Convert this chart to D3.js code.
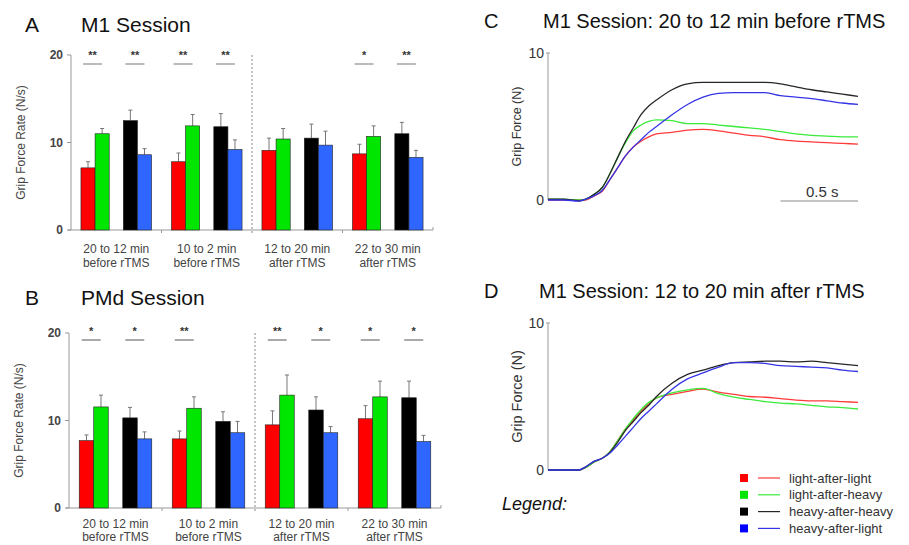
<!DOCTYPE html>
<html>
<head>
<meta charset="utf-8">
<script src="https://cdn.jsdelivr.net/npm/d3@7"></script>
<style>
  body { margin: 0; background: #fff; }
  svg { font-family: "Liberation Sans", Arial, sans-serif; }
</style>
</head>
<body>
<script>
// ---- data ----
var periodLine1 = ["20 to 12 min", "10 to 2 min", "12 to 20 min", "22 to 30 min"];
var periodLine2 = ["before rTMS", "before rTMS", "after rTMS", "after rTMS"];
var conditions = ["light-after-light", "light-after-heavy", "heavy-after-heavy", "heavy-after-light"];
var barColors = ["#ff0000", "#00e600", "#000000", "#2f66ff"];
var lineColors = ["#ff3a3a", "#3bea3b", "#262626", "#3434e6"];

// mean grip force rate per period, in condition order
var m1Means = [[7.1, 11.0, 12.5, 8.6], [7.8, 11.9, 11.8, 9.2], [9.1, 10.4, 10.5, 9.7], [8.7, 10.7, 11.0, 8.3]];
var m1Err   = [[0.7, 0.6, 1.2, 0.7], [1.0, 1.3, 1.5, 1.1], [1.4, 1.2, 1.6, 1.6], [1.1, 1.2, 1.3, 0.8]];
var m1Sig   = ["**", "**", "**", "**", "", "", "*", "**"];

var pmdMeans = [[7.7, 11.55, 10.3, 7.9], [7.9, 11.4, 9.9, 8.6], [9.5, 12.9, 11.2, 8.6], [10.2, 12.7, 12.6, 7.6]];
var pmdErr   = [[0.65, 1.35, 1.2, 0.8], [0.9, 1.3, 1.1, 1.3], [1.6, 2.3, 1.5, 0.7], [1.5, 1.8, 1.9, 0.7]];
var pmdSig   = ["*", "*", "**", "", "**", "*", "*", "*"];

var yTicks = [0, 10, 20];

// force traces (s, N)
var time = [0, 0.1, 0.2, 0.24, 0.3, 0.35, 0.4, 0.45, 0.5, 0.55, 0.6, 0.65, 0.7, 0.8, 0.9, 1.0, 1.1, 1.2, 1.3, 1.4, 1.5, 1.6, 1.7, 1.8, 1.9, 2.0];
var cLightLight = [0, 0, 0, 0, 0.3, 0.6, 1.4, 2.2, 3.0, 3.6, 4.0, 4.3, 4.5, 4.6, 4.75, 4.8, 4.7, 4.55, 4.4, 4.3, 4.1, 4.0, 3.95, 3.9, 3.85, 3.8];
var cLightHeavy = [0.05, 0.05, 0, 0.05, 0.4, 0.85, 1.8, 2.9, 3.9, 4.7, 5.1, 5.35, 5.45, 5.4, 5.2, 5.2, 5.1, 5.0, 4.9, 4.8, 4.65, 4.5, 4.4, 4.35, 4.3, 4.3];
var cHeavyHeavy = [0.05, 0.05, -0.05, 0.05, 0.4, 0.85, 1.8, 2.9, 4.0, 4.9, 5.8, 6.4, 6.8, 7.5, 7.9, 8.0, 8.0, 8.0, 8.0, 8.0, 7.9, 7.7, 7.5, 7.35, 7.2, 7.05];
var cHeavyLight = [0, 0, -0.07, 0.05, 0.3, 0.65, 1.4, 2.2, 3.0, 3.6, 4.1, 4.6, 5.0, 5.8, 6.5, 7.0, 7.25, 7.3, 7.3, 7.3, 7.1, 7.0, 6.9, 6.75, 6.6, 6.5];
var dLightLight = [0, 0, 0, 0.15, 0.55, 0.8, 1.25, 2.0, 2.8, 3.4, 4.0, 4.5, 4.9, 5.15, 5.35, 5.5, 5.3, 5.15, 5.0, 4.95, 4.85, 4.75, 4.7, 4.7, 4.65, 4.6];
var dLightHeavy = [0, 0, 0, 0.15, 0.55, 0.8, 1.25, 2.0, 2.8, 3.5, 4.1, 4.6, 4.9, 5.25, 5.45, 5.55, 5.2, 4.95, 4.8, 4.65, 4.55, 4.5, 4.4, 4.3, 4.25, 4.15];
var dHeavyHeavy = [0, 0, 0, 0.2, 0.6, 0.8, 1.2, 1.9, 2.7, 3.3, 3.9, 4.4, 5.0, 5.9, 6.5, 6.8, 7.1, 7.3, 7.35, 7.4, 7.4, 7.35, 7.4, 7.3, 7.2, 7.1];
var dHeavyLight = [0, 0, 0, 0.2, 0.6, 0.8, 1.15, 1.7, 2.3, 2.9, 3.5, 4.0, 4.5, 5.5, 6.2, 6.6, 7.0, 7.3, 7.3, 7.25, 7.1, 7.05, 7.0, 6.95, 6.8, 6.7];

var svg = d3.select("body").append("svg")
	.attr("width", 909)
	.attr("height", 545);

var axisGray = "#999";

function panelTitle(letter, title, lx, tx, y, size) {
	svg.append("text").attr("x", lx).attr("y", y).attr("font-size", size).attr("fill", "#111").text(letter);
	svg.append("text").attr("x", tx).attr("y", y).attr("font-size", size).attr("fill", "#111").text(title);
}

function barPanel(o) {
	var x = d3.scaleBand().domain(d3.range(4)).range([o.left, o.right]);
	var inner = d3.scaleBand().domain(d3.range(5))
		.range([-0.39 * x.bandwidth(), 0.39 * x.bandwidth()]);
	var slot = [0, 1, 3, 4];
	var y = d3.scaleLinear().domain([0, 20]).range([o.bottom, o.top]);
	var g = svg.append("g");

	// y axis
	g.append("line").attr("x1", o.left).attr("x2", o.left).attr("y1", y(20)).attr("y2", y(0))
		.attr("stroke", axisGray);
	yTicks.forEach(function(t) {
		g.append("line").attr("x1", o.left - 4).attr("x2", o.left).attr("y1", y(t)).attr("y2", y(t))
			.attr("stroke", axisGray);
		g.append("text").attr("x", o.left - 8).attr("y", y(t)).attr("dy", "0.35em")
			.attr("text-anchor", "end").attr("font-size", 12).attr("font-weight", "bold")
			.attr("fill", "#444").text(t);
	});
	g.append("text")
		.attr("transform", "translate(" + (o.left - 50) + "," + y(10) + ") rotate(-90)")
		.attr("text-anchor", "middle").attr("dy", "0.35em")
		.attr("font-size", 12).attr("fill", "#444").text("Grip Force Rate (N/s)");

	// x axis
	g.append("line").attr("x1", o.left - 3).attr("x2", o.right).attr("y1", y(0)).attr("y2", y(0))
		.attr("stroke", axisGray);
	[1, 3].forEach(function(i) {
		g.append("line").attr("x1", x(i)).attr("x2", x(i)).attr("y1", y(0)).attr("y2", y(0) + 3)
			.attr("stroke", axisGray);
	});
	g.append("line").attr("x1", o.right).attr("x2", o.right).attr("y1", y(0) - 3).attr("y2", y(0))
		.attr("stroke", axisGray);

	// dashed divider before / after rTMS
	g.append("line").attr("x1", x(2)).attr("x2", x(2)).attr("y1", y(20)).attr("y2", y(0) + 4)
		.attr("stroke", "#888").attr("stroke-dasharray", "2,2");

	d3.range(4).forEach(function(p) {
		var cx = x(p) + x.bandwidth() / 2;
		g.append("text").attr("x", cx).attr("y", y(0) + o.lab1).attr("text-anchor", "middle")
			.attr("font-size", 12).attr("fill", "#444").text(periodLine1[p]);
		g.append("text").attr("x", cx).attr("y", y(0) + o.lab1 + o.labGap).attr("text-anchor", "middle")
			.attr("font-size", 12).attr("fill", "#444").text(periodLine2[p]);

		o.means[p].forEach(function(v, c) {
			var bx = cx + inner(slot[c]);
			var bw = inner.bandwidth();
			var top = v + o.err[p][c];
			g.append("line").attr("x1", bx + bw / 2).attr("x2", bx + bw / 2)
				.attr("y1", y(v)).attr("y2", y(top)).attr("stroke", "#777");
			g.append("line").attr("x1", bx + bw / 2 - 2).attr("x2", bx + bw / 2 + 2)
				.attr("y1", y(top)).attr("y2", y(top)).attr("stroke", "#777");
			g.append("rect").attr("x", bx).attr("y", y(v))
				.attr("width", bw).attr("height", y(0) - y(v))
				.attr("fill", barColors[c]).attr("stroke", "#222").attr("stroke-width", 0.6);
		});

		// significance per pair
		[0, 1].forEach(function(k) {
			var s = o.sig[p * 2 + k];
			if (!s) return;
			var pc = cx + inner(slot[k * 2]) + inner.bandwidth() - 2.5;
			g.append("line").attr("x1", pc - 9.5).attr("x2", pc + 9.5)
				.attr("y1", o.sigY).attr("y2", o.sigY)
				.attr("stroke", o.sigColor).attr("stroke-width", o.sigWidth);
			g.append("text").attr("x", pc).attr("y", o.sigY - 5).attr("text-anchor", "middle")
				.attr("font-size", 11).attr("font-weight", "bold").attr("fill", "#333").text(s);
		});
	});
}

function tracePanel(o) {
	var x = d3.scaleLinear().domain([0, 2]).range([548, 858]);
	var y = d3.scaleLinear().domain([0, 10]).range([o.bottom, o.top]);
	var g = svg.append("g");

	g.append("line").attr("x1", x(0)).attr("x2", x(0)).attr("y1", y(10)).attr("y2", y(0))
		.attr("stroke", axisGray);
	g.append("line").attr("x1", x(0) - 2).attr("x2", x(0) + 2).attr("y1", y(10)).attr("y2", y(10))
		.attr("stroke", axisGray);
	[0, 10].forEach(function(t) {
		g.append("text").attr("x", x(0) - 4).attr("y", y(t)).attr("dy", "0.35em")
			.attr("text-anchor", "end").attr("font-size", 14).attr("fill", "#333").text(t);
	});
	g.append("text")
		.attr("transform", "translate(" + (x(0) - 31) + "," + y(5) + ") rotate(-90)")
		.attr("text-anchor", "middle").attr("dy", "0.35em")
		.attr("font-size", o.labSize).attr("fill", "#333").text("Grip Force (N)");

	var line = d3.line().x(function(d, i) { return x(time[i]); }).y(function(d) { return y(d); })
		.curve(d3.curveMonotoneX);
	o.series.forEach(function(s, c) {
		g.append("path").attr("d", line(s)).attr("fill", "none")
			.attr("stroke", lineColors[c]).attr("stroke-width", 1.3);
	});
}

// ---- panels A / B ----
panelTitle("A", "M1 Session", 25, 81, 32, 21);
barPanel({left: 71, right: 433, top: 55, bottom: 230, means: m1Means, err: m1Err, sig: m1Sig,
	sigY: 64, sigColor: "#aaa", sigWidth: 1.6, lab1: 23, labGap: 14});

panelTitle("B", "PMd Session", 25, 81, 305, 21);
barPanel({left: 69, right: 441, top: 333, bottom: 508, means: pmdMeans, err: pmdErr, sig: pmdSig,
	sigY: 340, sigColor: "#555", sigWidth: 1, lab1: 20, labGap: 13});

// ---- panels C / D ----
panelTitle("C", "M1 Session: 20 to 12 min before rTMS", 484, 543, 28, 20);
tracePanel({top: 53, bottom: 200, labSize: 12.5,
	series: [cLightLight, cLightHeavy, cHeavyHeavy, cHeavyLight]});

// scale bar 0.5 s
var xs = d3.scaleLinear().domain([0, 2]).range([548, 858]);
svg.append("line").attr("x1", xs(1.5)).attr("x2", xs(2)).attr("y1", 201).attr("y2", 201)
	.attr("stroke", "#888");
svg.append("text").attr("x", (xs(1.5) + xs(2)) / 2 + 3).attr("y", 197).attr("text-anchor", "middle")
	.attr("font-size", 15).attr("fill", "#333").text("0.5 s");

panelTitle("D", "M1 Session: 12 to 20 min after rTMS", 484, 539, 298, 20);
tracePanel({top: 323, bottom: 470, labSize: 14.5,
	series: [dLightLight, dLightHeavy, dHeavyHeavy, dHeavyLight]});

// ---- legend ----
svg.append("text").attr("x", 502).attr("y", 510).attr("font-size", 18).attr("font-style", "italic")
	.attr("fill", "#111").text("Legend:");
var legend = svg.append("g");
conditions.forEach(function(name, i) {
	var ly = 478 + i * 16.8;
	legend.append("rect").attr("x", 740).attr("y", ly - 4).attr("width", 8).attr("height", 8)
		.attr("fill", barColors[i] === "#2f66ff" ? "#0000ff" : barColors[i]);
	legend.append("line").attr("x1", 758).attr("x2", 780).attr("y1", ly).attr("y2", ly)
		.attr("stroke", lineColors[i]).attr("stroke-width", 1.2);
	legend.append("text").attr("x", 789).attr("y", ly).attr("dy", "0.35em")
		.attr("font-size", 13).attr("fill", "#333").text(name);
});
</script>
</body>
</html>
